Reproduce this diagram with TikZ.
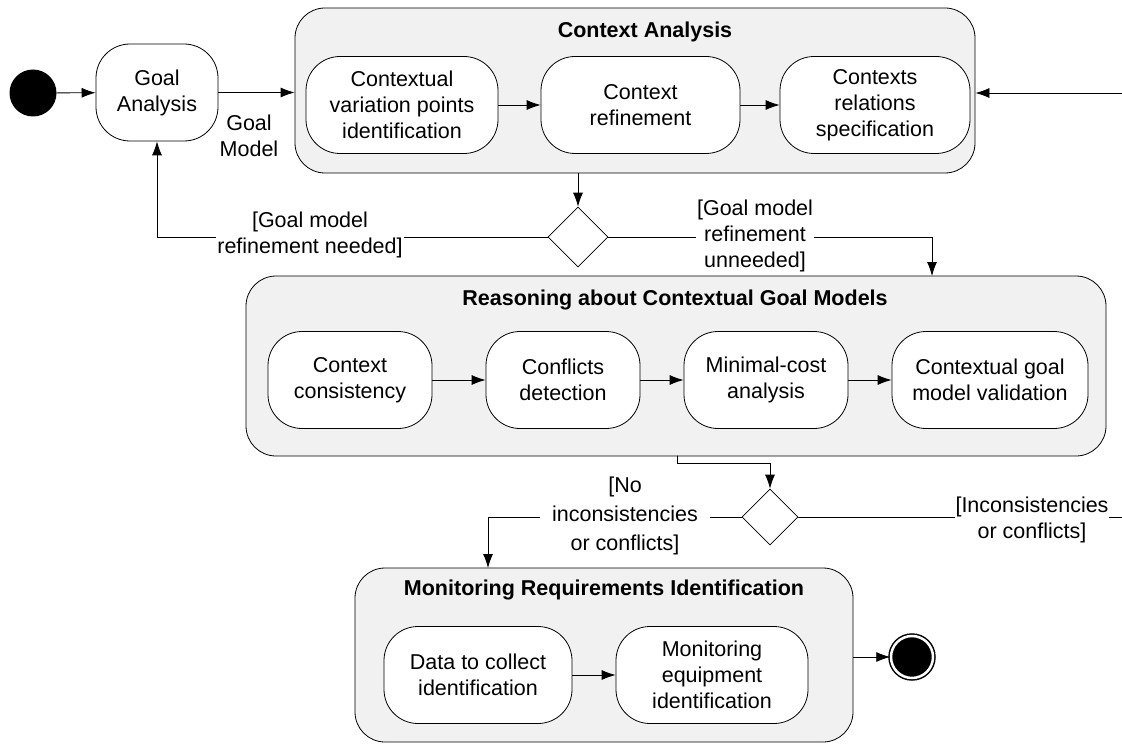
\documentclass[tikz,border=0pt]{standalone}
\usepackage{fontspec}
\setmainfont{Liberation Sans}
\usetikzlibrary{arrows.meta, positioning, shapes.geometric, calc}
\definecolor{panelgray}{RGB}{241,241,241}

\begin{document}
\begin{tikzpicture}[x=1pt, y=-1pt, line cap=round, font=\fontsize{21.5}{26}\selectfont,
    activity/.style={draw, fill=white, rounded corners=34pt, line width=0.8pt, align=center, minimum height=97pt, inner sep=2pt},
    container/.style={draw, fill=panelgray, rounded corners=30pt, line width=0.8pt},
    title/.style={font=\fontsize{21.5}{26}\selectfont\bfseries},
    decision/.style={draw, fill=white, diamond, minimum width=60pt, minimum height=60pt, inner sep=0pt, line width=0.8pt},
    guard/.style={fill=white, align=center, inner sep=1pt},
    flow/.style={-{Latex[length=14pt,width=10pt]}, line width=0.8pt}]
    \useasboundingbox (0,0) rectangle (1122,749);

    % containers
    \node (ctx) [container, minimum width=680pt, minimum height=165pt] at (635,90.5) {};
    \node (reason) [container, minimum width=860pt, minimum height=180pt] at (676,366) {};
    \node (mon) [container, minimum width=498pt, minimum height=174pt] at (604,655) {};
    \node (ctxtitle) [title] at (645,32) {Context Analysis};
    \node (reasontitle) [title] at (675,300) {Reasoning about Contextual Goal Models};
    \node (montitle) [title] at (604,590) {Monitoring Requirements Identification};

    % activities
    \node (start) [circle, fill=black, minimum size=47pt] at (33,93) {};
    \node (goal) [activity, minimum width=122pt] at (157,92.5) {Goal\\Analysis};
    \node (cvp) [activity, minimum width=192pt] at (402,105) {Contextual\\variation points\\identification};
    \node (cref) [activity, minimum width=199pt] at (640.5,105) {Context\\refinement};
    \node (crel) [activity, minimum width=190pt] at (875,105) {Contexts\\relations\\specification};
    \node (ccons) [activity, minimum width=164pt] at (350,380) {Context\\consistency};
    \node (cdet) [activity, minimum width=154pt] at (563,380) {Conflicts\\detection};
    \node (mincost) [activity, minimum width=164pt] at (766,380) {Minimal-cost\\analysis};
    \node (cval) [activity, minimum width=196pt] at (990,380) {Contextual goal\\model validation};
    \node (data) [activity, minimum width=188pt] at (478,675) {Data to collect\\identification};
    \node (equip) [activity, minimum width=192pt] at (712,675) {Monitoring\\equipment\\identification};
    \node (finish) [circle, fill=black, draw, line width=1.5pt, double=white, double distance=2.5pt, minimum size=42pt] at (912,657) {};

    \node (dec1) [decision] at (578,237) {};
    \node (dec2) [decision, minimum width=56pt, minimum height=56pt] at (770,517) {};

    \coordinate (loopin) at (1122,93);
    \coordinate (loopout) at (1122,517);
    \coordinate (rtop) at (932,276);
    \coordinate (rout) at (677,456);
    \coordinate (mtop) at (488,568);

    % flows
    \draw[flow] (start) -- (goal);
    \draw[flow] (goal.east) -- (goal.east -| ctx.west);
    \draw[flow] (loopin) -- (ctx.east |- loopin);
    \draw[flow] (cvp) -- (cref);
    \draw[flow] (cref) -- (crel);
    \draw[flow] (dec1 |- ctx.south) -- (dec1.north);
    \draw[flow] (dec1.west) -| (goal.south);
    \draw[flow] (dec1.east) -| (rtop);
    \draw[flow] (ccons) -- (cdet);
    \draw[flow] (cdet) -- (mincost);
    \draw[flow] (mincost) -- (cval);
    \draw[flow] (rout) -- ++(0,7) -| (dec2.north);
    \draw[flow] (dec2.west) -| (mtop);
    \draw (dec2.east) -- (loopout);
    \draw[flow] (data) -- (equip);
    \draw[flow] (mon.east |- finish) -- (finish);

    % guards
    \node (gmodel) [align=center] at (249,136) {Goal\\Model};
    \node (gneeded) [guard] at (310,235) {[Goal model\\refinement needed]};
    \node (gunneeded) [guard] at (755,236) {[Goal model\\refinement\\unneeded]};
    \node (gnone) [guard, inner xsep=12pt, font=\fontsize{21.5}{29}\selectfont] at (625,516) {[No\\inconsistencies\\or conflicts]};
    \node (gsome) [guard] at (1032,520) {[Inconsistencies\\or conflicts]};
\end{tikzpicture}
\end{document}
